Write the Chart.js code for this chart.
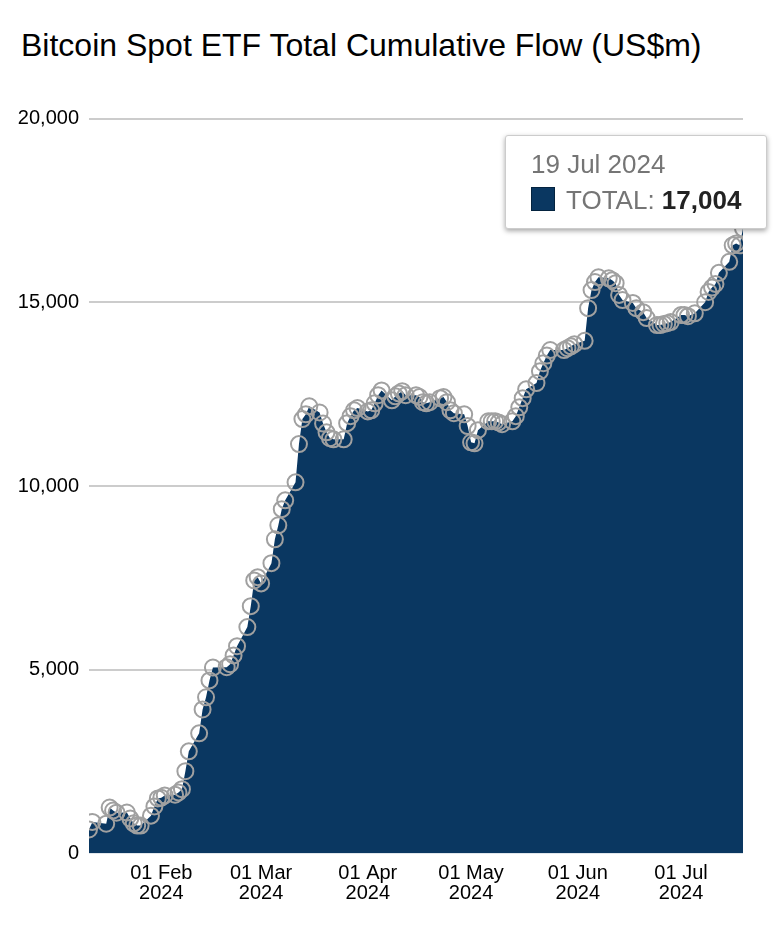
<!DOCTYPE html>
<html>
<head>
<meta charset="utf-8">
<title>Bitcoin Spot ETF Total Cumulative Flow</title>
<script src="https://cdn.jsdelivr.net/npm/chart.js@4"></script>
<style>
  html, body { margin: 0; padding: 0; background: #fff; font-family: "Liberation Sans", Arial, sans-serif; }
  #wrap { position: relative; width: 776px; height: 932px; overflow: hidden; }
  #chart-title { position: absolute; left: 21px; top: 27px; margin: 0; font-size: 32px; font-weight: normal; line-height: 36px; color: #000; white-space: nowrap; }
  canvas { position: absolute; left: 0; top: 0; }
  #tip { position: absolute; left: 505px; top: 135px; width: 260px; height: 92px; box-sizing: content-box; background: #fff; border: 1px solid #ccc; border-radius: 3px; box-shadow: 0 2px 5px rgba(0,0,0,0.35); display: none; }
  #tip-date { position: absolute; left: 25px; top: 14px; font-size: 26px; line-height: 28px; color: #757575; white-space: nowrap; }
  #tip-swatch { position: absolute; left: 25px; top: 51px; width: 22px; height: 22px; border: 1px solid #04233f; background: #0a3761; }
  #tip-row { position: absolute; left: 60px; top: 50px; font-size: 26px; line-height: 28px; color: #757575; white-space: nowrap; }
  #tip-row b { color: #222; }
</style>
</head>
<body>
<div id="wrap">
  <h1 id="chart-title">Bitcoin Spot ETF Total Cumulative Flow (US$m)</h1>
  <canvas id="flowChart" width="776" height="932"></canvas>
  <div id="tip">
    <div id="tip-date"></div>
    <div id="tip-swatch"></div>
    <div id="tip-row"></div>
  </div>
</div>
<script>
// Trading days, month by month
const janDays = ['01-11','01-12','01-16','01-17','01-18','01-19','01-22','01-23','01-24','01-25','01-26','01-29','01-30','01-31'];
const febDays = ['02-01','02-02','02-05','02-06','02-07','02-08','02-09','02-12','02-13','02-14','02-15','02-16','02-20','02-21','02-22','02-23','02-26','02-27','02-28','02-29'];
const marDays = ['03-01','03-04','03-05','03-06','03-07','03-08','03-11','03-12','03-13','03-14','03-15','03-18','03-19','03-20','03-21','03-22','03-25','03-26','03-27','03-28','03-29'];
const aprDays = ['04-01','04-02','04-03','04-04','04-05','04-08','04-09','04-10','04-11','04-12','04-15','04-16','04-17','04-18','04-19','04-22','04-23','04-24','04-25','04-26','04-29','04-30'];
const mayDays = ['05-01','05-02','05-03','05-06','05-07','05-08','05-09','05-10','05-13','05-14','05-15','05-16','05-17','05-20','05-21','05-22','05-23','05-24','05-28','05-29','05-30','05-31'];
const junDays = ['06-03','06-04','06-05','06-06','06-07','06-10','06-11','06-12','06-13','06-14','06-17','06-18','06-20','06-21','06-24','06-25','06-26','06-27','06-28'];
const julDays = ['07-01','07-02','07-03','07-05','07-08','07-09','07-10','07-11','07-12','07-15','07-16','07-17','07-18','07-19'];

// Cumulative flow in US$m
const janFlow = [655,860,810,1250,1170,1110,1115,950,820,760,760,1030,1280,1500];
const febFlow = [1520,1580,1600,1660,1750,2240,2780,3270,3920,4250,4710,5060,5070,5150,5390,5640,6160,6730,7430,7520];
const marFlow = [7350,7900,8550,8930,9370,9610,10100,11140,11820,11950,12170,12000,11700,11460,11300,11270,11270,11710,11900,12060,12120];
const aprFlow = [12030,12060,12250,12470,12600,12330,12440,12520,12580,12470,12470,12420,12280,12250,12280,12390,12420,12280,12060,11980,11950,11630];
const mayFlow = [11190,11160,11520,11760,11760,11760,11730,11680,11760,11900,12140,12390,12630,12800,13120,13340,13550,13700,13700,13750,13800,13860];
const junFlow = [13950,14840,15330,15550,15680,15650,15600,15520,15200,15060,14980,14840,14730,14570,14380,14380,14410,14430,14460];
const julFlow = [14650,14650,14620,14700,15000,15280,15400,15500,15800,16100,16550,16600,16550,17004];

// Axis ticks
const monthTicks = ['02-01','03-01','04-01','05-01','06-01','07-01'];
const monthLabels = ['01 Feb','01 Mar','01 Apr','01 May','01 Jun','01 Jul'];
const valueTicks = [0,5000,10000,15000,20000];

const seriesName = 'TOTAL';
const tickYear = '2024';
const monthNames = ['Jan','Feb','Mar','Apr','May','Jun','Jul'];

const toTime = md => Date.UTC(2024, +md.slice(0, 2) - 1, +md.slice(3));
const allDays = [...janDays, ...febDays, ...marDays, ...aprDays, ...mayDays, ...junDays, ...julDays];
const allFlow = [...janFlow, ...febFlow, ...marFlow, ...aprFlow, ...mayFlow, ...junFlow, ...julFlow];
const points = allDays.map((d, i) => ({ x: toTime(d), y: allFlow[i] }));

function drawTip({ tooltip }) {
    const box = document.getElementById('tip');
    if (!tooltip.dataPoints || !tooltip.dataPoints.length) return;
    const p = tooltip.dataPoints[0];
    const d = new Date(p.raw.x);
    document.getElementById('tip-date').textContent =
        `${String(d.getUTCDate()).padStart(2, '0')} ${monthNames[d.getUTCMonth()]} ${d.getUTCFullYear()}`;
    document.getElementById('tip-row').innerHTML =
        `${p.dataset.label}: <b>${p.raw.y.toLocaleString('en-US')}</b>`;
    box.style.display = 'block';
}

const chart = new Chart(document.getElementById('flowChart').getContext('2d'), {
    type: 'line',
    data: {
        datasets: [{
            label: seriesName,
            data: points,
            fill: 'origin',
            backgroundColor: '#0a3761',
            borderWidth: 0,
            tension: 0,
            clip: 0,
            pointRadius: 8,
            pointHoverRadius: 8,
            pointBorderWidth: 2,
            pointHoverBorderWidth: 2,
            pointBackgroundColor: 'rgba(0,0,0,0)',
            pointHoverBackgroundColor: 'rgba(0,0,0,0)',
            pointBorderColor: '#a0a0a0',
            pointHoverBorderColor: '#a0a0a0'
        }]
    },
    options: {
        responsive: false,
        animation: false,
        layout: { padding: { top: 118.5, right: 33, left: 0, bottom: 0 } },
        plugins: {
            legend: { display: false },
            tooltip: { enabled: false, external: drawTip }
        },
        scales: {
            x: {
                type: 'linear',
                min: toTime(allDays[0]),
                max: toTime(allDays[allDays.length - 1]),
                grid: { display: false },
                border: { display: false },
                afterBuildTicks: axis => { axis.ticks = monthTicks.map(m => ({ value: toTime(m) })); },
                afterFit: axis => { axis.height = 932 - 853.5; },
                ticks: {
                    autoSkip: false,
                    maxRotation: 0,
                    padding: 2,
                    color: '#000',
                    font: { family: '"Liberation Sans"', size: 20, lineHeight: 1 },
                    callback: value => [monthLabels[monthTicks.findIndex(m => toTime(m) === value)], tickYear]
                }
            },
            y: {
                min: 0,
                max: 20000,
                grid: {
                    // no rule along the baseline
                    color: ctx => (ctx.tick && ctx.tick.value === 0 ? 'rgba(0,0,0,0)' : '#cccccc'),
                    lineWidth: 2,
                    drawTicks: false
                },
                border: { display: false },
                afterBuildTicks: axis => { axis.ticks = valueTicks.map(v => ({ value: v })); },
                afterFit: axis => { axis.width = 89; },
                ticks: {
                    padding: 10,
                    color: '#000',
                    font: { family: '"Liberation Sans"', size: 20 },
                    callback: value => value.toLocaleString('en-US')
                }
            }
        }
    }
});

// The reference shows the tooltip of the last day
const lastIndex = points.length - 1;
const lastEl = chart.getDatasetMeta(0).data[lastIndex];
chart.tooltip.setActiveElements([{ datasetIndex: 0, index: lastIndex }], { x: lastEl.x, y: lastEl.y });
chart.update();
</script>
</body>
</html>
